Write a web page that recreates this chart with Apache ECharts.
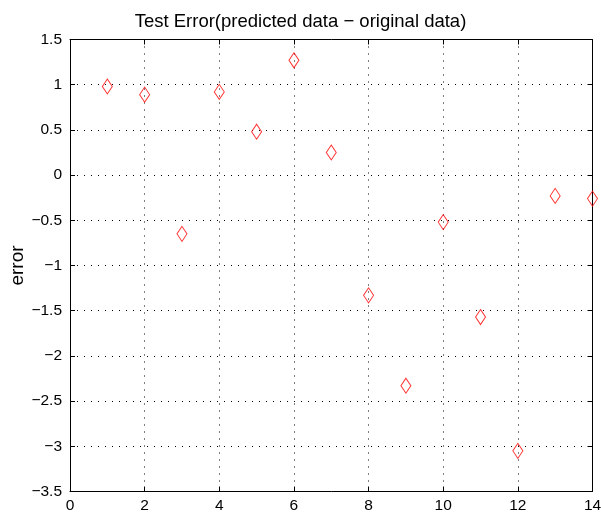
<!DOCTYPE html>
<html><head><meta charset="utf-8">
<script src="https://cdn.jsdelivr.net/npm/echarts@6/dist/echarts.min.js"></script>
<style>html,body{margin:0;padding:0;background:#fff}#c{width:601px;height:515px}</style>
</head><body><div id="c"></div>
<script>
var xValues = [1,2,3,4,5,6,7,8,9,10,11,12,13,14];
var errors = [0.98,0.89,-0.65,0.92,0.48,1.27,0.25,-1.33,-2.33,-0.52,-1.57,-3.05,-0.23,-0.26];
var titleText = 'Test Error(predicted data \u2212 original data)';
var yName = 'error';

var font = 'Liberation Sans, Arial, Helvetica, sans-serif';
var chart = echarts.init(document.getElementById('c'), null, {renderer:'canvas'});
var lbl = {color:'#000', fontFamily:font, fontSize:15.5};
function fmtNum(v){ return String(v).replace('-', '\u2212'); }
var dot = {type:[1,6], color:'#000', width:1};
chart.setOption({
  animation:false,
  title:{text:titleText, left:'center', top:7, textStyle:{fontFamily:font, fontSize:18.5, fontWeight:'normal', color:'#000'}},
  grid:{left:70, right:8.5, top:39.5, bottom:23.5, containLabel:false, outerBoundsMode:'none'},
  xAxis:[{
    type:'value', min:0, max:14, interval:2, position:'bottom',
    axisLine:{onZero:false, lineStyle:{color:'#000', width:1}},
    axisTick:{inside:true, length:5, lineStyle:{color:'#000'}},
    axisLabel:Object.assign({margin:6, formatter:fmtNum}, lbl),
    splitLine:{show:true, lineStyle:dot}
  },{
    type:'value', min:0, max:14, interval:2, position:'top',
    axisLine:{onZero:false, lineStyle:{color:'#000', width:1}},
    axisTick:{inside:true, length:5, lineStyle:{color:'#000'}},
    axisLabel:{show:false}, splitLine:{show:false}
  }],
  yAxis:[{
    type:'value', min:-3.5, max:1.5, interval:0.5, position:'left',
    name:yName, nameLocation:'middle', nameGap:43, nameRotate:90, nameMoveOverlap:false,
    nameTextStyle:{fontFamily:font, fontSize:19, color:'#000'},
    axisLine:{onZero:false, lineStyle:{color:'#000', width:1}},
    axisTick:{inside:true, length:5, lineStyle:{color:'#000'}},
    axisLabel:Object.assign({margin:8, formatter:fmtNum}, lbl),
    splitLine:{show:true, lineStyle:dot}
  },{
    type:'value', min:-3.5, max:1.5, interval:0.5, position:'right',
    axisLine:{onZero:false, lineStyle:{color:'#000', width:1}},
    axisTick:{inside:true, length:5, lineStyle:{color:'#000'}},
    axisLabel:{show:false}, splitLine:{show:false}
  }],
  series:[{
    type:'scatter', xAxisIndex:0, yAxisIndex:0,
    data: xValues.map(function(x,i){return [x, errors[i]];}),
    symbol:'diamond', symbolSize:[10,15],
    itemStyle:{color:'rgba(0,0,0,0)', borderColor:'#ff0000', borderWidth:1},
    clip:false
  }]
});
</script></body></html>
